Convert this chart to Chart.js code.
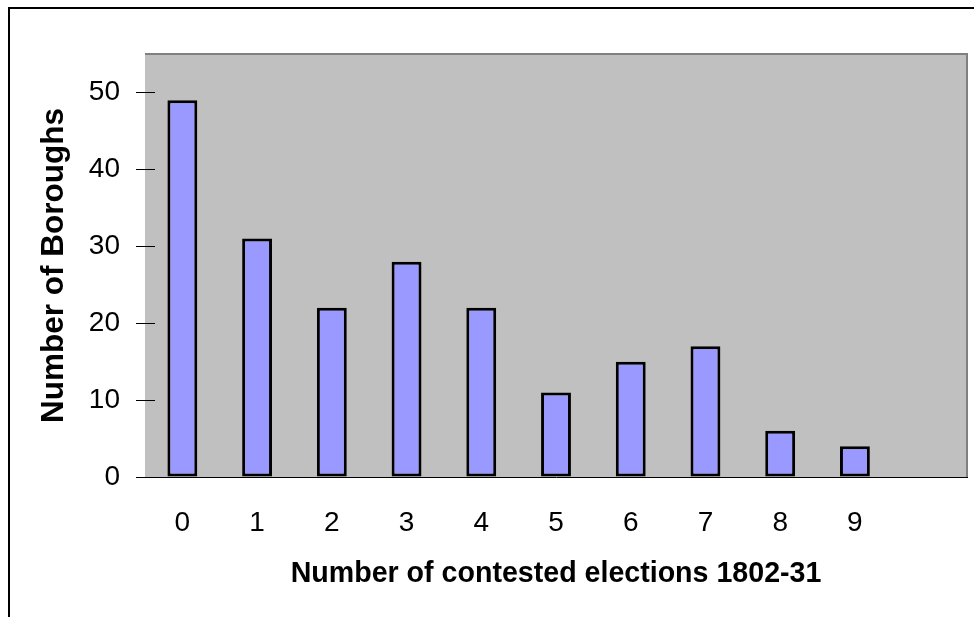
<!DOCTYPE html>
<html>
<head>
<meta charset="utf-8">
<script src="https://cdn.jsdelivr.net/npm/chart.js@4.4.1/dist/chart.umd.min.js"></script>
<style>
  html, body { margin: 0; padding: 0; background: #fff; overflow: hidden; }
  #wrap { position: relative; width: 974px; height: 617px; }
  #chart { position: absolute; left: 0; top: 0; }
  #frame {
    position: absolute; left: 8px; top: 7px; width: 1000px; height: 700px;
    border-left: 2px solid #000; border-top: 2px solid #000; pointer-events: none;
  }
</style>
</head>
<body>
<div id="wrap">
  <canvas id="chart" width="974" height="617"></canvas>
  <div id="frame"></div>
</div>
<script>
  // data
  const categories = ['0', '1', '2', '3', '4', '5', '6', '7', '8', '9', ''];
  const boroughs = [49, 31, 22, 28, 22, 11, 15, 17, 6, 4, null];
  const yTicks = [0, 10, 20, 30, 40, 50];

  Chart.defaults.font.family = "'Liberation Sans', Arial, sans-serif";
  Chart.defaults.color = '#000';

  // grey plot area, grey top/right border, tick marks that cross the value axis
  const plotArea = {
    id: 'plotArea',
    beforeDatasetsDraw(chart) {
      const { ctx, chartArea: a } = chart;
      ctx.save();
      ctx.fillStyle = '#C0C0C0';
      ctx.fillRect(a.left, a.top, a.right - a.left, a.bottom - a.top);
      ctx.restore();
    },
    afterDraw(chart) {
      const { ctx, chartArea: a, scales } = chart;
      ctx.save();
      ctx.strokeStyle = '#808080';
      ctx.lineWidth = 2;
      ctx.beginPath();
      ctx.moveTo(a.left, a.top);
      ctx.lineTo(a.right, a.top);
      ctx.lineTo(a.right, a.bottom);
      ctx.stroke();
      ctx.strokeStyle = '#000';
      ctx.lineWidth = 1;
      yTicks.forEach((v) => {
        const y = Math.round(scales.y.getPixelForValue(v)) + 0.5;
        ctx.beginPath();
        ctx.moveTo(a.left, y);
        ctx.lineTo(a.left + 10, y);
        ctx.stroke();
      });
      ctx.restore();
    },
  };

  new Chart(document.getElementById('chart'), {
    type: 'bar',
    data: {
      labels: categories,
      datasets: [{
        data: boroughs,
        backgroundColor: '#9999FF',
        borderColor: '#000',
        borderWidth: 3,
        borderSkipped: false,
        categoryPercentage: 1,
        barPercentage: 0.4,
      }],
    },
    options: {
      responsive: false,
      animation: false,
      layout: { padding: { top: 54, right: 7, left: 0, bottom: 0 } },
      plugins: { legend: { display: false }, tooltip: { enabled: false } },
      scales: {
        x: {
          grid: { display: false, drawTicks: false },
          border: { display: true, color: '#000', width: 1 },
          ticks: { font: { size: 28 }, padding: 29, maxRotation: 0 },
          title: {
            display: true,
            text: 'Number of contested elections 1802-31',
            font: { size: 28.6, weight: 'bold' },
            padding: { top: 0, bottom: 26 },
          },
          afterFit: (s) => { s.height = 140; },
        },
        y: {
          min: 0,
          max: 55,
          grid: { drawOnChartArea: false, tickLength: 9, color: '#000' },
          border: { display: true, color: '#000', width: 1 },
          ticks: { stepSize: 10, font: { size: 28 }, padding: 16 },
          afterBuildTicks: (s) => { s.ticks = yTicks.map((v) => ({ value: v })); },
          title: {
            display: true,
            text: 'Number of Boroughs',
            font: { size: 31.5, weight: 'bold' },
            padding: { top: 35, bottom: 0 },
          },
          afterFit: (s) => { s.width = 145; },
        },
      },
    },
    plugins: [plotArea],
  });
</script>
</body>
</html>
